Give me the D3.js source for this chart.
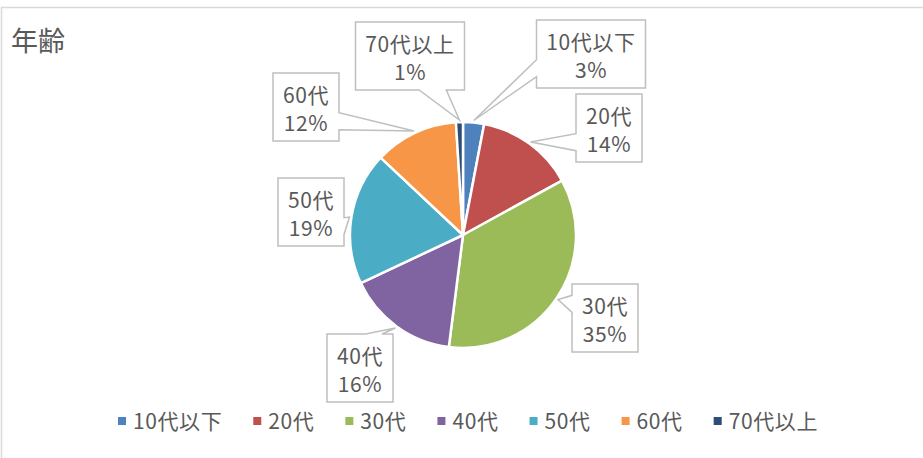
<!DOCTYPE html>
<html>
<head>
<meta charset="utf-8">
<script src="https://cdn.jsdelivr.net/npm/d3@7"></script>
<style>
  body { margin: 0; background: #fff; }
  text { font-family: "Noto Sans CJK JP", "Noto Sans", sans-serif; fill: #595959; }
  .lbl { font-size: 21px; letter-spacing: 0.6px; }
</style>
</head>
<body>
<svg width="923" height="458"></svg>
<script>
// data
var categories = ["10代以下", "20代", "30代", "40代", "50代", "60代", "70代以上"];
var values = [3, 14, 35, 16, 19, 12, 1];
var colors = ["#4F81BD", "#C0504D", "#9BBB59", "#8064A2", "#4BACC6", "#F79646", "#2C4D75"];
// label box centres, as offsets from the pie centre (layout only)
var labelOffsets = [[128, -181], [146, -107], [142, 83], [-103, 133], [-152, -23], [-157, -128], [-53, -179]];

var svg = d3.select("svg"),
    cx = 463, cy = 235, radius = 113;

svg.append("rect")
    .attr("x", 1.5).attr("y", 7.5)
    .attr("width", 940).attr("height", 470)
    .attr("fill", "#fff")
    .attr("stroke", "#d9d9d9")
    .attr("stroke-width", 1.5);

svg.append("text")
    .attr("x", 11).attr("y", 51)
    .style("font-size", "27px")
    .text("年齢");

var total = d3.sum(values);
var pie = d3.pie().sort(null).value(function(d) { return d; });
var arc = d3.arc().innerRadius(0).outerRadius(radius);
var arcs = pie(values);

var g = svg.append("g").attr("transform", "translate(" + cx + "," + cy + ")");

g.selectAll("path.slice")
  .data(arcs)
  .enter().append("path")
    .attr("class", "slice")
    .attr("d", arc)
    .attr("fill", function(d, i) { return colors[i]; })
    .attr("stroke", "#fff")
    .attr("stroke-width", 2.5)
    .attr("stroke-linejoin", "round");

// callout labels (Excel wedgeRectCallout style)
var lab = g.selectAll("g.label")
  .data(arcs)
  .enter().append("g")
    .attr("class", "label");

lab.each(function(d, i) {
  var el = d3.select(this);
  var t1 = el.append("text").attr("class", "lbl").attr("text-anchor", "middle").text(categories[i]);
  var t2 = el.append("text").attr("class", "lbl").attr("text-anchor", "middle")
      .text(Math.round(values[i] / total * 100) + "%");
  var tw = Math.max(t1.node().getComputedTextLength(), t2.node().getComputedTextLength());
  var w = Math.round(tw + 20), h = 68;
  var bx = labelOffsets[i][0], by = labelOffsets[i][1];
  var x0 = bx - w / 2, y0 = by - h / 2;
  t1.attr("x", bx).attr("y", y0 + 22).attr("dy", "0.36em");
  t2.attr("x", bx).attr("y", y0 + 50).attr("dy", "0.36em");

  var a = (d.startAngle + d.endAngle) / 2,
      tx = Math.sin(a) * (radius + 2), ty = -Math.cos(a) * (radius + 2);
  var dxp = tx - bx, dyp = ty - by;
  var inside = tx > x0 && tx < x0 + w && ty > y0 && ty < y0 + h;
  var pts;
  if (inside) {
    pts = [[x0, y0], [x0 + w, y0], [x0 + w, y0 + h], [x0, y0 + h]];
  } else if (Math.abs(dxp * h) > Math.abs(dyp * w)) {
    var ya = y0 + h * (dyp > 0 ? 7 : 2) / 12, yb = y0 + h * (dyp > 0 ? 10 : 5) / 12;
    if (dxp < 0) pts = [[x0, y0], [x0 + w, y0], [x0 + w, y0 + h], [x0, y0 + h], [x0, yb], [tx, ty], [x0, ya]];
    else pts = [[x0, y0], [x0 + w, y0], [x0 + w, ya], [tx, ty], [x0 + w, yb], [x0 + w, y0 + h], [x0, y0 + h]];
  } else {
    var xa = x0 + w * (dxp > 0 ? 7 : 2) / 12, xb = x0 + w * (dxp > 0 ? 10 : 5) / 12;
    if (dyp < 0) pts = [[x0, y0], [xa, y0], [tx, ty], [xb, y0], [x0 + w, y0], [x0 + w, y0 + h], [x0, y0 + h]];
    else pts = [[x0, y0], [x0 + w, y0], [x0 + w, y0 + h], [xb, y0 + h], [tx, ty], [xa, y0 + h], [x0, y0 + h]];
  }
  el.insert("path", "text")
      .attr("d", d3.line()(pts) + "Z")
      .attr("fill", "#fff")
      .attr("stroke", "#bfbfbf")
      .attr("stroke-width", 1.5);
});

// legend
var legend = svg.append("g").attr("class", "legend");
var items = legend.selectAll("g")
  .data(categories)
  .enter().append("g");
items.append("rect")
    .attr("width", 8).attr("height", 8)
    .attr("y", -4)
    .attr("fill", function(d, i) { return colors[i]; });
items.append("text")
    .attr("class", "lbl")
    .attr("x", 15).attr("dy", "0.36em")
    .text(function(d) { return d; });
var lx = 0, widths = [];
items.each(function() {
  widths.push(d3.select(this).select("text").node().getComputedTextLength() + 15);
});
var startX = 118, endX = 818;
var gap = (endX - startX - d3.sum(widths)) / (widths.length - 1);
items.attr("transform", function(d, i) {
  var x = startX + lx;
  lx += widths[i] + gap;
  return "translate(" + x + ",421)";
});
</script>
</body>
</html>
